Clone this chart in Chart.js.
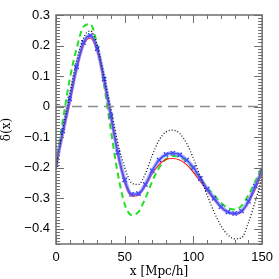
<!DOCTYPE html>
<html>
<head>
<meta charset="utf-8">
<script src="https://cdn.jsdelivr.net/npm/chart.js@4/dist/chart.umd.min.js"></script>
<style>
  html, body { margin: 0; padding: 0; background: #fff; }
  #wrap { width: 279px; height: 279px; }
</style>
</head>
<body>
<div id="wrap"><canvas id="deltaChart"></canvas></div>
<script>
"use strict";

// x positions, Mpc/h
const xValues = [0, 5, 10, 15, 20, 25, 30, 35, 40, 45, 50, 55, 60, 65, 70, 75,
  80, 85, 90, 95, 100, 105, 110, 115, 120, 125, 130, 135, 140, 145, 150];

const deltaBlack = [-0.2, -0.07, 0.04, 0.15, 0.225, 0.248, 0.2, 0.1, -0.01, -0.12,
  -0.2, -0.25, -0.255, -0.22, -0.16, -0.11, -0.083, -0.077, -0.088, -0.12,
  -0.17, -0.23, -0.29, -0.345, -0.39, -0.42, -0.433, -0.43, -0.38, -0.31, -0.235];

const deltaGreen = [-0.19, -0.045, 0.09, 0.19, 0.262, 0.27, 0.2, 0.07, -0.08, -0.22,
  -0.32, -0.355, -0.345, -0.3, -0.245, -0.2, -0.172, -0.162, -0.165, -0.18,
  -0.205, -0.235, -0.265, -0.29, -0.315, -0.332, -0.337, -0.325, -0.29, -0.245, -0.195];

const deltaBlue = [-0.19, -0.08, 0.025, 0.13, 0.21, 0.233, 0.19, 0.09, -0.03, -0.15,
  -0.24, -0.287, -0.285, -0.255, -0.21, -0.175, -0.157, -0.153, -0.158, -0.175,
  -0.2, -0.235, -0.27, -0.3, -0.328, -0.345, -0.35, -0.342, -0.31, -0.26, -0.208];

const deltaRed = [-0.2, -0.09, 0.01, 0.12, 0.2, 0.225, 0.18, 0.08, -0.04, -0.16,
  -0.25, -0.293, -0.29, -0.26, -0.22, -0.19, -0.173, -0.17, -0.175, -0.19,
  -0.215, -0.245, -0.275, -0.305, -0.33, -0.347, -0.352, -0.345, -0.315, -0.27, -0.218];

const xTicks = [0, 50, 100, 150];
const yTicks = [-0.4, -0.3, -0.2, -0.1, 0, 0.1, 0.2, 0.3];

function toPoints(ys) {
  return xValues.map(function (x, i) { return { x: x, y: ys[i] }; });
}

// frame with inward major/minor ticks on all four sides
const frameTicks = {
  id: "frameTicks",
  afterDatasetsDraw(chart) {
    const ctx = chart.ctx;
    const a = chart.chartArea;
    const xs = chart.scales.x;
    const ys = chart.scales.y;
    ctx.save();
    ctx.strokeStyle = "#6e6e6e";
    ctx.lineWidth = 1.5;
    ctx.strokeRect(a.left, a.top, a.right - a.left, a.bottom - a.top);
    ctx.lineWidth = 1;
    ctx.beginPath();
    for (let v = 0; v <= 150; v += 10) {
      const px = Math.round(xs.getPixelForValue(v)) + 0.5;
      const len = v % 50 === 0 ? 8 : 4;
      ctx.moveTo(px, a.bottom); ctx.lineTo(px, a.bottom - len);
      ctx.moveTo(px, a.top); ctx.lineTo(px, a.top + len);
    }
    for (let k = -45; k <= 30; k++) {
      const py = Math.round(ys.getPixelForValue(k / 100)) + 0.5;
      const len = k % 10 === 0 ? 8 : 4;
      ctx.moveTo(a.left, py); ctx.lineTo(a.left + len, py);
      ctx.moveTo(a.right, py); ctx.lineTo(a.right - len, py);
    }
    ctx.stroke();
    ctx.restore();
  }
};

const ctx = document.getElementById("deltaChart").getContext("2d");

const deltaChart = new Chart(ctx, {
  type: "line",
  data: {
    datasets: [
      {
        data: [{ x: 0, y: 0 }, { x: 150, y: 0 }],
        borderColor: "#8c8c8c",
        borderWidth: 1.5,
        borderDash: [10, 6],
        pointRadius: 0
      },
      {
        data: toPoints(deltaBlack),
        borderColor: "#111111",
        borderWidth: 1.3,
        borderDash: [1, 2],
        pointRadius: 0,
        cubicInterpolationMode: "monotone"
      },
      {
        // error band around the measured points
        data: toPoints(deltaBlue),
        borderColor: "rgba(110, 120, 255, 0.55)",
        borderWidth: 4,
        pointRadius: 0,
        cubicInterpolationMode: "monotone"
      },
      {
        data: toPoints(deltaBlue),
        borderColor: "#2020ff",
        borderWidth: 1.5,
        pointStyle: "crossRot",
        pointRadius: 3,
        pointBorderWidth: 1.2,
        pointBorderColor: "#1010ff",
        cubicInterpolationMode: "monotone"
      },
      {
        data: toPoints(deltaRed),
        borderColor: "#ff1a1a",
        borderWidth: 1.2,
        pointRadius: 0,
        cubicInterpolationMode: "monotone"
      },
      {
        data: toPoints(deltaGreen),
        borderColor: "#22e022",
        borderWidth: 2,
        borderDash: [6, 4],
        pointRadius: 0,
        cubicInterpolationMode: "monotone"
      }
    ]
  },
  options: {
    responsive: true,
    maintainAspectRatio: false,
    animation: false,
    layout: { padding: { top: 15, right: 15, left: 0, bottom: 0 } },
    plugins: { legend: { display: false }, tooltip: { enabled: false } },
    scales: {
      x: {
        type: "linear",
        min: 0,
        max: 150,
        grid: { display: false, drawTicks: false },
        border: { display: false },
        afterBuildTicks: function (scale) {
          scale.ticks = xTicks.map(function (v) { return { value: v }; });
        },
        afterFit: function (scale) { scale.height = 35; },
        ticks: {
          color: "#000",
          padding: 6,
          maxRotation: 0,
          font: { family: "Liberation Sans", size: 13 }
        },
        title: {
          display: true,
          text: "x [Mpc/h]",
          color: "#000",
          padding: { top: 0, bottom: 0 },
          font: { family: "DejaVu Serif", size: 12 }
        }
      },
      y: {
        min: -0.45,
        max: 0.3,
        grid: { display: false, drawTicks: false },
        border: { display: false },
        afterBuildTicks: function (scale) {
          scale.ticks = yTicks.map(function (v) { return { value: v }; });
        },
        afterFit: function (scale) { scale.width = 56; },
        ticks: {
          color: "#000",
          padding: 6,
          font: { family: "Liberation Sans", size: 13 },
          callback: function (v) {
            if (Math.abs(v) < 1e-9) return "0";
            const s = Math.abs(v).toFixed(1);
            return v < 0 ? "\u2212" + s : s;
          }
        },
        title: {
          display: true,
          text: "\u03b4(x)",
          color: "#000",
          padding: { top: 0, bottom: 4 },
          font: { family: "DejaVu Serif", size: 12 }
        }
      }
    }
  },
  plugins: [frameTicks]
});
</script>
</body>
</html>
